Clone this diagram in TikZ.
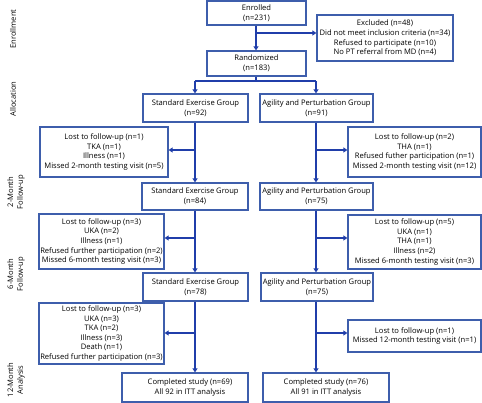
\documentclass[tikz,border=0pt]{standalone}
\usepackage{fontspec}
\setmainfont{Open Sans}
\usetikzlibrary{arrows.meta}
\definecolor{boxblue}{RGB}{62,94,172}
\definecolor{linkblue}{RGB}{32,62,170}
\tikzset{
  box/.style={draw=boxblue, line width=1.2pt, fill=white, inner sep=0pt, align=center,
    font=\fontsize{7.6}{9.6}\selectfont},
  txt/.style={inner sep=0pt, align=center, font=\fontsize{7.6}{9.6}\selectfont},
  side/.style={inner sep=0pt, align=center, rotate=90, font=\fontsize{7.6}{9.6}\selectfont},
  link/.style={draw=linkblue, line width=1.1pt},
  arr/.style={link, -{Triangle[length=4pt,width=5pt]}}
}
\newcommand{\bx}[6]{% name, x1,y1,x2,y2, text
  \node[box, minimum width=#4-#2, minimum height=#5-#3] (#1) at ({(#2+#4)/2},{(#3+#5)/2}) {#6};}
\begin{document}
\begin{tikzpicture}[x=1pt,y=-1pt]
\useasboundingbox (0,0) rectangle (482,403);
% side labels
\node[side] (sEnr) at (13,29) {Enrollment};
\node[side] (sAll) at (13,99) {Allocation};
\node[side] (s2) at (16,192) {2-Month\\Follow-up};
\node[side] (s6) at (16,274) {6-Month\\Follow-up};
\node[side] (s12) at (16,380) {12-Month\\Analysis};
% boxes
\bx{enr}{207}{1}{306}{25}{Enrolled\\(n=231)}
\bx{exc}{317}{15}{453}{61}{Excluded (n=48)\\Did not meet inclusion criteria (n=34)\\Refused to participate (n=10)\\No PT referral from MD (n=4)}
\bx{rand}{207}{51}{306}{76}{Randomized\\(n=183)}
\bx{segA}{143}{94}{248}{122}{Standard Exercise Group\\(n=92)}
\bx{apgA}{260}{94}{373}{122}{Agility and Perturbation Group\\(n=91)}
\bx{lA}{40}{127}{168}{177}{Lost to follow-up (n=1)\\TKA (n=1)\\Illness (n=1)\\Missed 2-month testing visit (n=5)}
\bx{rA}{348}{127}{481}{177}{Lost to follow-up (n=2)\\THA (n=1)\\Refused futher participation (n=1)\\Missed 2-month testing visit (n=12)}
\bx{segB}{142}{183}{248}{210}{Standard Exercise Group\\(n=84)}
\bx{apgB}{260}{183}{373}{210}{Agility and Perturbation Group\\(n=75)}
\bx{lB}{39}{214}{164}{269}{Lost to follow-up (n=3)\\UKA (n=2)\\Illness (n=1)\\Refused further participation (n=2)\\Missed 6-month testing visit (n=3)}
\bx{rB}{348}{215}{481}{269}{Lost to follow-up (n=5)\\UKA (n=1)\\THA (n=1)\\Illness (n=2)\\Missed 6-month testing visit (n=3)}
\bx{segC}{143}{273}{248}{301}{Standard Exercise Group\\(n=78)}
\bx{apgC}{261}{273}{373}{301}{Agility and Perturbation Group\\(n=75)}
\bx{lC}{39}{303}{164}{364}{Lost to follow-up (n=3)\\UKA (n=3)\\TKA (n=2)\\Illness (n=3)\\Death (n=1)\\Refused further participation (n=3)}
\bx{rC}{348}{320}{481}{352}{Lost to follow-up (n=1)\\Missed 12-month testing visit (n=1)}
\bx{cA}{122}{373}{248}{402}{}
\node[txt] (cAt) at (190,387.5) {Completed study (n=69)\\All 92 in ITT analysis};
\bx{cB}{263}{373}{389}{402}{Completed study (n=76)\\All 91 in ITT analysis}
% column coordinates
\coordinate (colM) at (256,0);
\coordinate (colL) at (195,0);
\coordinate (colR) at (316,0);
\coordinate (j0) at (256,33);
\coordinate (j1) at (256,81);
\coordinate (jL) at (195,81);
\coordinate (jR) at (316,81);
\coordinate (bLA) at (195,150);
\coordinate (bRA) at (316,150);
\coordinate (bLB) at (195,238);
\coordinate (bRB) at (316,238);
\coordinate (bLC) at (195,333);
\coordinate (bRC) at (316,333);
% connectors
\draw[arr] (colM |- enr.south) -- (colM |- rand.north);
\draw[arr] (j0) -- (j0 -| exc.west);
\draw[link] (colM |- rand.south) -- (j1);
\draw[link] (jL) -- (jR);
\draw[arr] (jL) -- (colL |- segA.north);
\draw[arr] (jR) -- (colR |- apgA.north);
% left column
\draw[arr] (colL |- segA.south) -- (colL |- segB.north);
\draw[arr] (bLA) -- (bLA -| lA.east);
\draw[arr] (colL |- segB.south) -- (colL |- segC.north);
\draw[arr] (bLB) -- (bLB -| lB.east);
\draw[arr] (colL |- segC.south) -- (colL |- cA.north);
\draw[arr] (bLC) -- (bLC -| lC.east);
% right column
\draw[arr] (colR |- apgA.south) -- (colR |- apgB.north);
\draw[arr] (bRA) -- (bRA -| rA.west);
\draw[arr] (colR |- apgB.south) -- (colR |- apgC.north);
\draw[arr] (bRB) -- (bRB -| rB.west);
\draw[arr] (colR |- apgC.south) -- (colR |- cB.north);
\draw[arr] (bRC) -- (bRC -| rC.west);
\end{tikzpicture}
\end{document}
